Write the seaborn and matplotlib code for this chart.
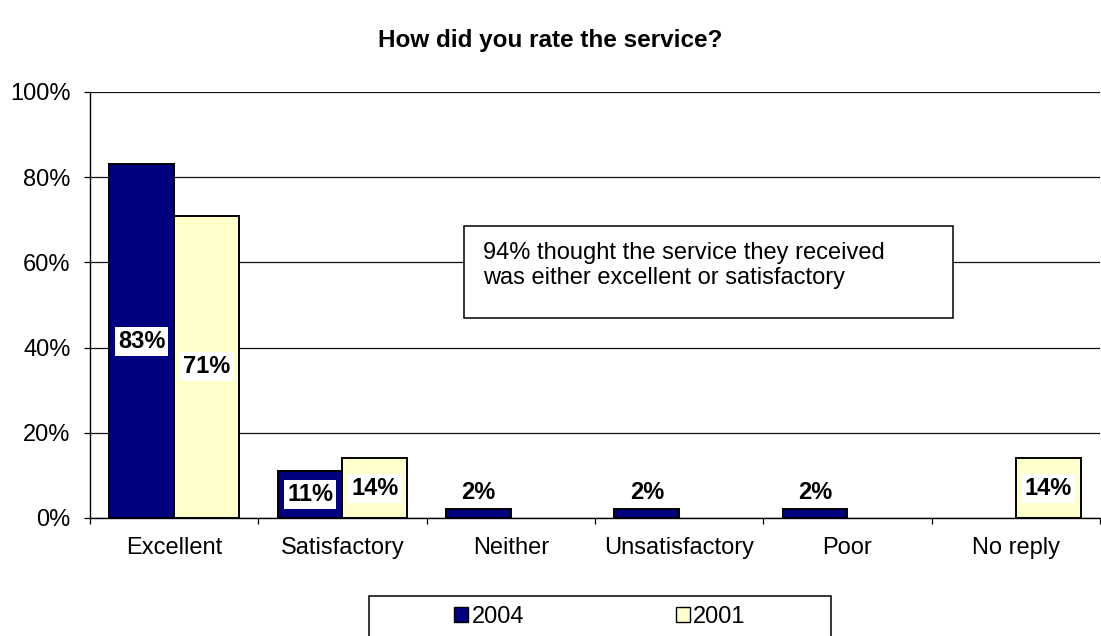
import numpy as np
import pandas as pd
import matplotlib
matplotlib.use("Agg")
import matplotlib.pyplot as plt
from matplotlib.patches import Rectangle, Patch
from matplotlib.ticker import PercentFormatter, FixedLocator
import seaborn as sns

# Survey answers (percent of respondents)
categories = ["Excellent", "Satisfactory", "Neither", "Unsatisfactory", "Poor", "No reply"]
years = ["2004", "2001"]
values_2004 = [83, 11, 2, 2, 2, np.nan]
values_2001 = [71, 14, np.nan, np.nan, np.nan, 14]
year_colors = {"2004": "#000080", "2001": "#FFFFCC"}
title = "How did you rate the service?"
note = "94% thought the service they received\nwas either excellent or satisfactory"
y_ticks = [0, 20, 40, 60, 80, 100]

df = pd.DataFrame({
    "category": categories * 2,
    "year": ["2004"] * len(categories) + ["2001"] * len(categories),
    "value": values_2004 + values_2001,
}).dropna()

sns.set_style("white")
plt.rcParams["font.family"] = ["Liberation Sans", "DejaVu Sans"]
plt.rcParams["text.color"] = "black"
plt.rcParams["xtick.color"] = "black"
plt.rcParams["ytick.color"] = "black"
plt.rcParams["axes.labelcolor"] = "black"

W, H = 1101, 636
fig = plt.figure(figsize=(W / 100, H / 100), dpi=100)
ax = fig.add_axes([90 / W, 1 - 518 / H, (1100 - 90) / W, (518 - 92) / H])

sns.barplot(data=df, x="category", y="value", hue="year", order=categories,
            hue_order=years, palette=year_colors, width=0.77, gap=0,
            edgecolor="black", linewidth=1.4, saturation=1, legend=False,
            ax=ax, zorder=3)

ax.set_xlim(-0.5, len(categories) - 0.5)
ax.set_ylim(0, 100)
ax.set_xlabel("")
ax.set_ylabel("")

# Axes, ticks and grid
ax.yaxis.set_major_locator(FixedLocator(y_ticks))
ax.yaxis.set_major_formatter(PercentFormatter(100, decimals=0))
ax.tick_params(axis="y", which="major", direction="out", length=4, width=0.9,
               pad=10, labelsize=17, left=True, color="black", labelcolor="black")
ax.set_xticks(range(len(categories)))
ax.set_xticklabels(categories)
ax.set_xticks(np.arange(-0.5, len(categories), 1), minor=True)
ax.tick_params(axis="x", which="major", length=0, pad=14, labelsize=17,
               labelcolor="black")
ax.tick_params(axis="x", which="minor", direction="out", length=4.5, width=0.9,
               bottom=True, color="black")
ax.grid(axis="y", color="#111111", linewidth=0.9, zorder=0)
ax.set_axisbelow(True)
for side in ["top", "right"]:
    ax.spines[side].set_visible(False)
for side in ["left", "bottom"]:
    ax.spines[side].set_color("black")
    ax.spines[side].set_linewidth(1.0)
    ax.spines[side].set_zorder(4)

# Value labels
for container in ax.containers:
    for bar in container:
        h = bar.get_height()
        if np.isnan(h) or h <= 0:
            continue
        x = bar.get_x() + bar.get_width() / 2
        if h >= 5:
            ax.text(x, h / 2, f"{h:.0f}%", ha="center", va="center",
                    fontsize=17, fontweight="bold", color="black", zorder=5,
                    bbox=dict(boxstyle="square,pad=0.12", facecolor="white",
                              edgecolor="none"))
        else:
            ax.annotate(f"{h:.0f}%", (x, h), xytext=(0, 4), textcoords="offset points",
                        ha="center", va="bottom", fontsize=17, fontweight="bold",
                        color="black", zorder=5)

# Title
fig.text(0.5, 1 - 41 / H, title, ha="center", va="center",
         fontsize=17.5, fontweight="bold", color="black")

# Annotation box
fig.patches.append(Rectangle((464 / W, 1 - 318 / H), (953 - 464) / W, (318 - 226) / H,
                             transform=fig.transFigure, facecolor="white",
                             edgecolor="black", linewidth=1.1, zorder=6))
fig.text(483 / W, 1 - 242 / H, note, ha="left", va="top", fontsize=17,
         linespacing=1.2, color="black", zorder=7)

# Legend with its frame
fig.patches.append(Rectangle((369 / W, -0.02), (831 - 369) / W, 1 - 596 / H + 0.02,
                             transform=fig.transFigure, facecolor="white",
                             edgecolor="black", linewidth=1.1, zorder=1))
handles = [Patch(facecolor=year_colors[y], edgecolor="black", linewidth=1.0, label=y)
           for y in years]
fig.legend(handles=handles, loc="center", bbox_to_anchor=(600 / W, 1 - 617 / H),
           ncol=2, frameon=False, fontsize=17, handlelength=0.6, handleheight=0.6,
           handletextpad=0.15, columnspacing=6.4, borderpad=0, labelcolor="black")

fig.savefig("out.png", dpi=100)
